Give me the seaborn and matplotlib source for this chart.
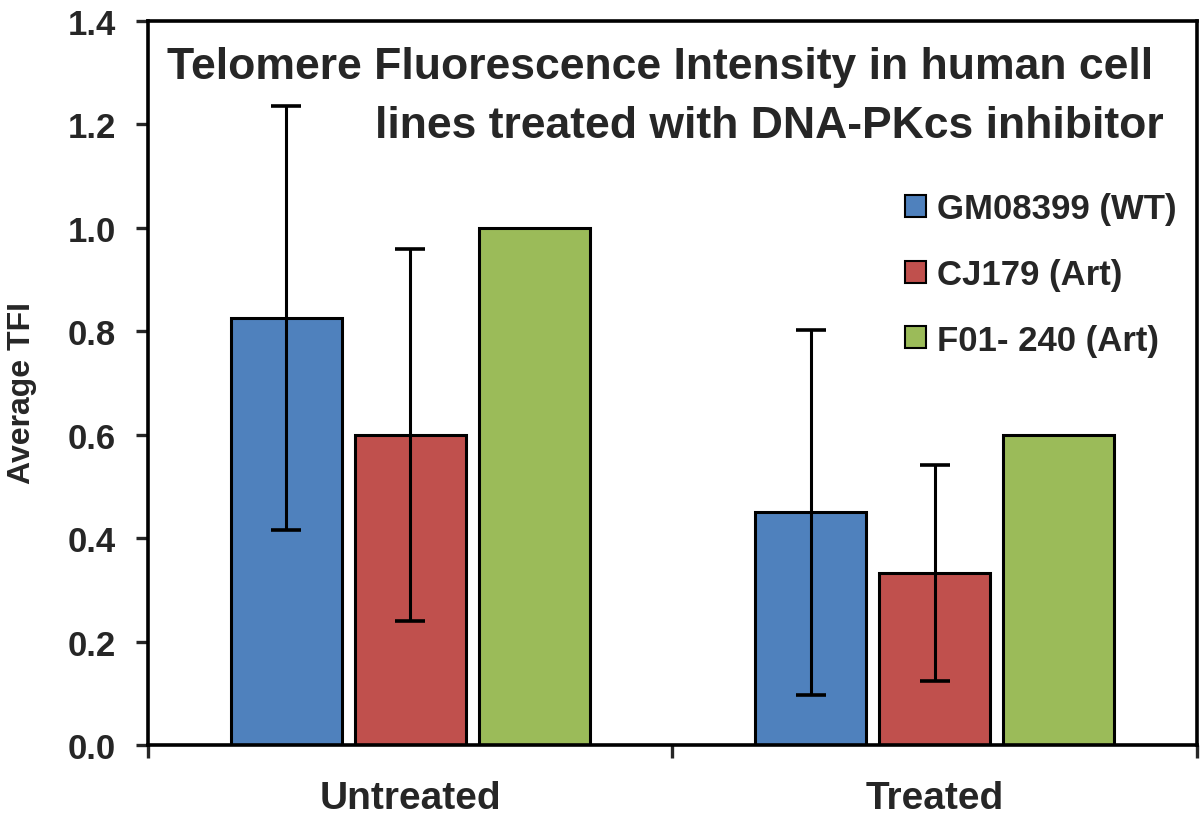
import numpy as np
import pandas as pd
import seaborn as sns
import matplotlib.pyplot as plt
from matplotlib.patches import Patch

# data
conditions = ["Untreated", "Treated"]
cell_lines = ["GM08399 (WT)", "CJ179 (Art)", "F01- 240 (Art)"]
tfi_untreated = [0.825, 0.600, 1.000]
tfi_treated = [0.450, 0.333, 0.600]
err_untreated = [0.410, 0.360, 0.0]
err_treated = [0.353, 0.209, 0.0]
colors = ["#4F81BD", "#C0504D", "#9BBB59"]
yticks = [0.0, 0.2, 0.4, 0.6, 0.8, 1.0, 1.2, 1.4]

rows = []
for i, line in enumerate(cell_lines):
    rows.append({"condition": conditions[0], "line": line, "tfi": tfi_untreated[i], "err": err_untreated[i]})
    rows.append({"condition": conditions[1], "line": line, "tfi": tfi_treated[i], "err": err_treated[i]})
df = pd.DataFrame(rows)

sns.set_style("white")
plt.rcParams["font.family"] = ["Liberation Sans", "DejaVu Sans"]

fig = plt.figure(figsize=(12, 8.2), dpi=100)
ax = fig.add_axes([0.1233, 0.0903, 0.8742, 0.8829])

sns.barplot(data=df, x="condition", y="tfi", hue="line", order=conditions,
            hue_order=cell_lines, palette=colors, saturation=1,
            width=0.709, gap=0.105, edgecolor="black", linewidth=2.2,
            errorbar=None, legend=False, ax=ax)

# error bars on top of the seaborn bars (green series has none)
for cont, line in zip(ax.containers, cell_lines):
    sub = df[df["line"] == line].set_index("condition").loc[conditions]
    for bar, (_, r) in zip(cont.patches, sub.iterrows()):
        if r["err"] <= 0:
            continue
        xc = bar.get_x() + bar.get_width() / 2
        ax.errorbar(xc, bar.get_height(), yerr=r["err"], fmt="none",
                    ecolor="black", elinewidth=2.2, capsize=11, capthick=2.6)

ax.set_xlim(-0.5, 1.5)
ax.set_ylim(0, 1.4)
ax.set_yticks(yticks)
ax.set_yticklabels([f"{v:.1f}" for v in yticks], fontweight="bold", fontsize=25)
ax.tick_params(axis="y", direction="out", length=9, width=2.4, pad=14, left=True)
ax.set_xticks([0, 1])
ax.set_xticklabels(conditions, fontweight="bold", fontsize=28)
ax.tick_params(axis="x", which="major", length=0, pad=25)
ax.set_xticks([-0.5, 0.5, 1.5], minor=True)
ax.tick_params(axis="x", which="minor", direction="out", length=9, width=2.4, bottom=True)

for sp in ax.spines.values():
    sp.set_visible(True)
    sp.set_color("black")
    sp.set_linewidth(2.6)

ax.set_xlabel("")
ax.set_ylabel("Average TFI", fontweight="bold", fontsize=23)
ax.yaxis.set_label_coords(-0.106, 0.488)

# two-line title inside the plot
ax.text(0.488, 0.937, "Telomere Fluorescence Intensity in human cell",
        transform=ax.transAxes, ha="center", va="center",
        fontweight="bold", fontsize=32)
ax.text(0.968, 0.855, "lines treated with DNA-PKcs inhibitor",
        transform=ax.transAxes, ha="right", va="center",
        fontweight="bold", fontsize=32)

handles = [Patch(facecolor=c, edgecolor="black", linewidth=1.5) for c in colors]
ax.legend(handles, cell_lines, loc="upper right", bbox_to_anchor=(1.0, 0.792),
          frameon=False, prop={"weight": "bold", "size": 25},
          handlelength=0.6, handleheight=0.6, handletextpad=0.3,
          labelspacing=0.94, borderaxespad=0.2)

fig.savefig("out.png", dpi=100, facecolor="white")
plt.close(fig)
